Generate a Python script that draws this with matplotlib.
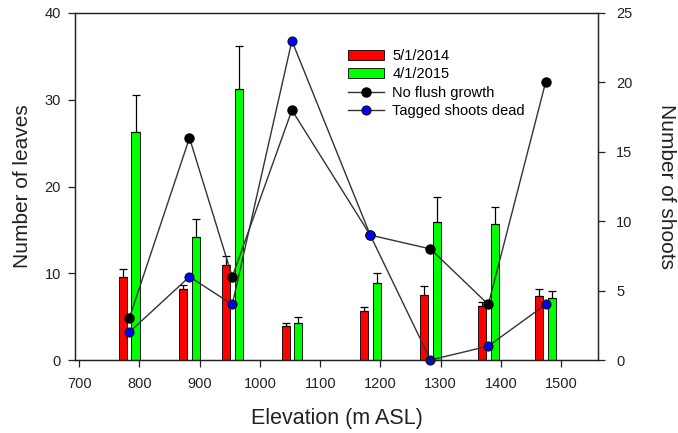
import matplotlib
matplotlib.use("Agg")
import matplotlib.pyplot as plt
import numpy as np

plt.rcParams['font.family'] = ['Liberation Sans', 'DejaVu Sans']

# data
elevation = [783, 883, 954, 1053, 1183, 1283, 1379, 1474]
leaves_2014 = [9.6, 8.2, 11.0, 3.9, 5.7, 7.5, 6.2, 7.4]
err_2014 = [0.9, 0.45, 1.0, 0.4, 0.45, 1.0, 0.5, 0.8]
leaves_2015 = [26.3, 14.2, 31.2, 4.3, 8.9, 15.9, 15.7, 7.1]
err_2015 = [4.3, 2.1, 5.0, 0.7, 1.1, 2.9, 1.9, 0.85]
no_flush = [3, 16, 6, 18, 9, 8, 4, 20]
shoots_dead = [2, 6, 4, 23, 9, 0, 1, 4]

x_ticks = [700, 800, 900, 1000, 1100, 1200, 1300, 1400, 1500]

x = np.array(elevation)
w = 13.5
off = 10.5

fig = plt.figure(figsize=(6.78, 4.33), dpi=100)
ax = fig.add_axes([75/678, 1 - 360/433, 523/678, 347/433])

zeros = np.zeros(len(x))
b1 = ax.bar(x - off, leaves_2014, width=w, color='#ff0000', edgecolor='black', linewidth=0.6,
            label='5/1/2014')
ax.errorbar(x - off, leaves_2014, yerr=[zeros, err_2014], fmt='none', ecolor='black',
            elinewidth=0.9, capsize=3, capthick=0.9)
b2 = ax.bar(x + off, leaves_2015, width=w, color='#00ff00', edgecolor='black', linewidth=0.6,
            label='4/1/2015')
ax.errorbar(x + off, leaves_2015, yerr=[zeros, err_2015], fmt='none', ecolor='black',
            elinewidth=0.9, capsize=3, capthick=0.9)

ax.set_xlim(693, 1561)
ax.set_ylim(0, 40)
ax.set_xticks(x_ticks)
ax.set_yticks([0, 10, 20, 30, 40])
ax.tick_params(direction='out', length=5, width=0.9, labelsize=10.5, colors='#222222')
ax.tick_params(axis='y', pad=5)
ax.tick_params(axis='x', pad=7)
ax.set_xlabel('Elevation (m ASL)', fontsize=15.5, color='#222222')
ax.set_ylabel('Number of leaves', fontsize=15, color='#222222')
ax.xaxis.set_label_coords(0.5, -0.138)
ax.yaxis.set_label_coords(-0.082, 0.5)

ax2 = ax.twinx()
l1, = ax2.plot(x, no_flush, color='#333333', linewidth=1, marker='o', markersize=6.5,
               markerfacecolor='black', markeredgecolor='black', label='No flush growth',
               clip_on=False)
l2, = ax2.plot(x, shoots_dead, color='#333333', linewidth=1, marker='o', markersize=6.5,
               markerfacecolor='#0000ff', markeredgecolor='#111111', markeredgewidth=0.8,
               label='Tagged shoots dead', clip_on=False)
ax2.set_ylim(0, 25)
ax2.set_yticks([0, 5, 10, 15, 20, 25])
ax2.tick_params(direction='out', length=5, width=0.9, labelsize=10.5, colors='#222222', pad=8)
ax2.set_ylabel('Number of shoots', fontsize=15, color='#222222', rotation=270)
ax2.yaxis.set_label_coords(1.15, 0.5)

for a in (ax, ax2):
    for s in a.spines.values():
        s.set_linewidth(0.9)
        s.set_color('#222222')

ax2.legend([b1, b2, l1, l2], ['5/1/2014', '4/1/2015', 'No flush growth', 'Tagged shoots dead'],
           loc='upper left', bbox_to_anchor=(0.522, 0.896), frameon=False, fontsize=10.5,
           handlelength=2.5, handleheight=0.65, handletextpad=0.55, labelspacing=0.3,
           borderpad=0, borderaxespad=0)

fig.savefig('out.png', dpi=100)
